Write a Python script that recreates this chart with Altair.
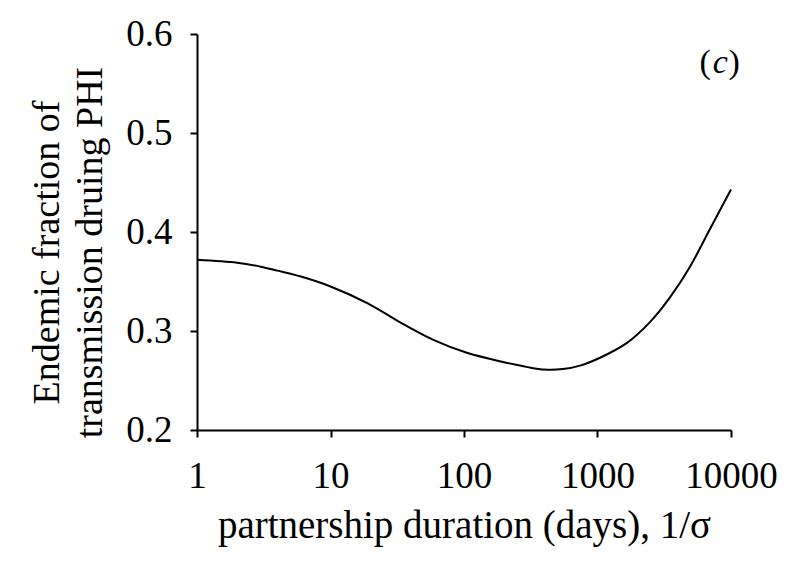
import altair as alt
import pandas as pd

duration = [1, 2, 3, 4, 6, 10, 19, 33, 59, 105, 200, 300, 400, 550, 740,
            1044, 1663, 2470, 3490, 4930, 6960, 10000]
fraction = [0.372, 0.369, 0.365, 0.361, 0.355, 0.345, 0.328, 0.309, 0.291, 0.278,
            0.2685, 0.2635, 0.261, 0.2615, 0.265, 0.273, 0.288, 0.309, 0.334, 0.365,
            0.403, 0.443]
x_ticks = [1, 10, 100, 1000, 10000]
y_ticks = [0.2, 0.3, 0.4, 0.5, 0.6]

df = pd.DataFrame({"d": duration, "f": fraction})
lab = pd.DataFrame({"d": [8300], "f": [0.571]})

FONT = "Liberation Serif"

xs = alt.Scale(type="log", domain=[1, 10000], nice=False)
ys = alt.Scale(domain=[0.2, 0.6], nice=False, zero=False)

line = alt.Chart(df).mark_line(color="black", strokeWidth=2, interpolate="catmull-rom").encode(
    x=alt.X("d:Q", scale=xs, axis=alt.Axis(
        values=x_ticks, format="d", title="partnership duration (days), 1/σ",
        labelFont=FONT, labelFontSize=37, labelColor="black", labelPadding=21,
        tickSize=7, tickColor="black", tickWidth=2, domainColor="black", domainWidth=2,
        grid=False, labelFlush=False, labelOverlap=False,
        titleFont=FONT, titleFontSize=39, titleFontWeight="normal", titleColor="black",
        titleY=107, titleBaseline="alphabetic")),
    y=alt.Y("f:Q", scale=ys, axis=alt.Axis(
        values=y_ticks, format=".1f",
        title=["Endemic fraction of", "transmission druing PHI"],
        labelFont=FONT, labelFontSize=37, labelColor="black", labelPadding=18,
        tickSize=7, tickColor="black", tickWidth=2, domainColor="black", domainWidth=2,
        grid=False, labelFlush=False, labelOverlap=False,
        titleFont=FONT, titleFontSize=38, titleFontWeight="normal", titleColor="black",
        titleX=-131, titleY=218, titleBaseline="bottom", titleLineHeight=43)),
)

base = alt.Chart(lab).encode(x=alt.X("d:Q", scale=xs), y=alt.Y("f:Q", scale=ys))
lp = base.mark_text(text="(", font=FONT, fontSize=34, dx=-15, color="black")
lc = base.mark_text(text="c", font=FONT, fontSize=34, fontStyle="italic", dx=0, color="black")
rp = base.mark_text(text=")", font=FONT, fontSize=34, dx=14, color="black")

chart = alt.layer(line, lp, lc, rp).properties(
    width=534, height=396,
    autosize=alt.AutoSizeParams(type="none"),
    padding={"left": 189, "top": 26, "right": 50, "bottom": 120},
    background="white",
).configure_view(stroke=None)

chart.save("out.html", embed_options={"renderer": "svg", "actions": False})
